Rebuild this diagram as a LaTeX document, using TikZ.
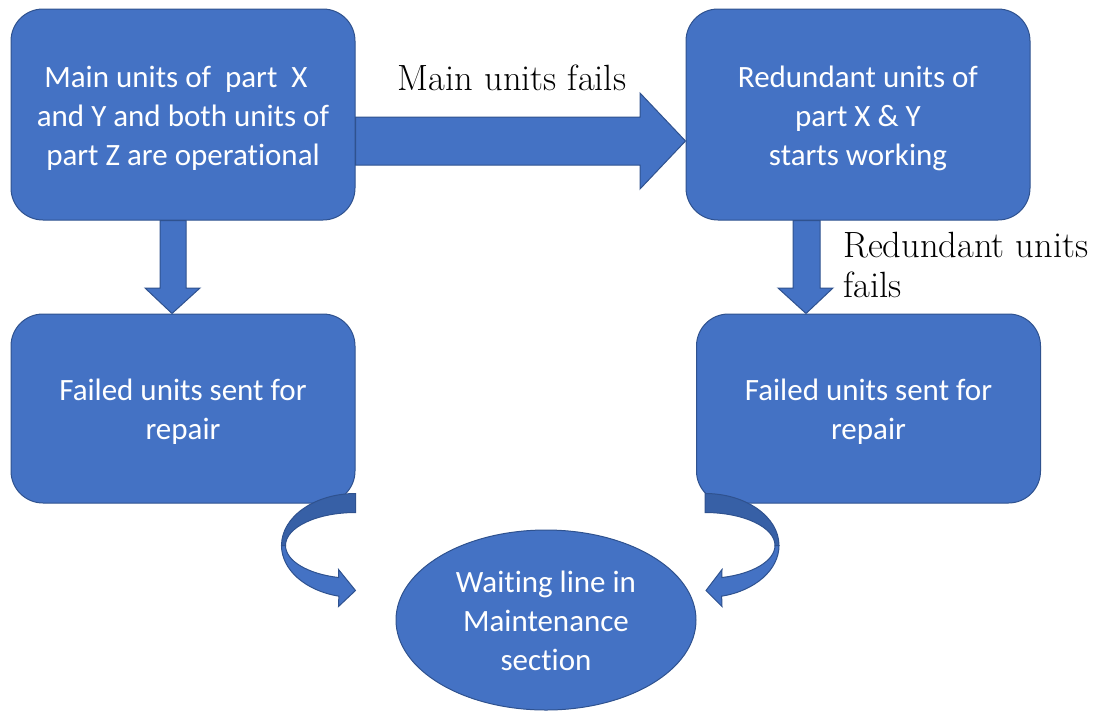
\documentclass[tikz,border=0pt]{standalone}
\usepackage{fontspec}
\newfontfamily\boxfont[Ligatures={NoCommon}]{Carlito}
\usetikzlibrary{shapes.geometric,calc}
\definecolor{fillb}{HTML}{4472C4}
\definecolor{lineb}{HTML}{2F528F}
\definecolor{darkb}{HTML}{3760A6}
\tikzset{
  box/.style={draw=lineb, line width=1pt, fill=fillb, rounded corners=32pt,
    minimum width=344pt, inner sep=0pt},
  oval/.style={ellipse, draw=lineb, line width=1pt, fill=fillb, minimum width=300pt,
    minimum height=180pt, inner sep=0pt},
  txt/.style={text=white, align=center, inner sep=0pt,
    font=\boxfont\fontsize{31}{39}\selectfont},
  blockarrow/.style={draw=lineb, line width=1pt, fill=fillb},
  backband/.style={draw=lineb, line width=1pt, fill=darkb},
  lbl/.style={font=\fontsize{36.5}{40}\selectfont, inner sep=0pt}
}
\begin{document}
\begin{tikzpicture}[x=1pt,y=-1pt]
\useasboundingbox (0,0) rectangle (1095,713);
\node[box, minimum height=211pt] (A) at (183,114.5) {};
\node[box, minimum height=211pt] (B) at (858,114.5) {};
\node[box, minimum height=189pt] (C) at (183,408.5) {};
\node[box, minimum height=189pt] (D) at (868.5,408.5) {};
\node[oval] (E) at (546,620) {};

\node[txt] (At) at ($(A.center)+(0,3.5)$) {Main units of\ \ part\ \ X\hspace*{14pt}\\and Y and both units of\\part Z are operational};
\node[txt] (Bt) at ($(B.center)+(0,3.5)$) {Redundant units of\\part X \& Y\\starts working};
\node[txt] (Ct) at ($(C.center)+(0,3.5)$) {Failed units sent for\\repair};
\node[txt] (Dt) at ($(D.center)+(0,3.5)$) {Failed units sent for\\repair};
\node[txt] (Et) at ($(E.center)+(0,1)$) {Waiting line in\\Maintenance\\section};

% horizontal block arrow A -> B
\draw[blockarrow] (A.east |- 0,117) -- (640,117) -- (640,93) -- (B.west |- 0,141)
  -- (640,189) -- (640,165) -- (A.east |- 0,165) -- cycle;
% down arrow A -> C
\draw[blockarrow] (160,0 |- A.south) -- (160,288) -- (145,288) -- (172,0 |- C.north)
  -- (200,288) -- (186,288) -- (186,0 |- A.south) -- cycle;
% down arrow B -> D
\draw[blockarrow] (793,0 |- B.south) -- (793,288) -- (778,288) -- (806,0 |- D.north)
  -- (833,288) -- (820,288) -- (820,0 |- B.south) -- cycle;

% curved arrow C -> E
\coordinate (cl) at ($(C.south east)+(0,-10)$);
\draw[backband] (cl) arc[start angle=270,end angle=180,x radius=74,y radius=52]
  -- ++(4,0) arc[start angle=180,end angle=270,x radius=70,y radius=33] -- cycle;
\draw[blockarrow] ($(cl)+(-74,52)$) arc[start angle=180,end angle=103,x radius=74,y radius=52]
  -- ++(-0.35,10.33) -- ++(17,-16) -- ++(-17,-21) -- ++(0.07,8.02)
  arc[start angle=104,end angle=180,x radius=70,y radius=33] -- cycle;

% curved arrow D -> E
\coordinate (cr) at ($(D.south west)+(9,-10)$);
\draw[backband] (cr) arc[start angle=270,end angle=360,x radius=74,y radius=52]
  -- ++(-4,0) arc[start angle=0,end angle=-90,x radius=70,y radius=33] -- cycle;
\draw[blockarrow] ($(cr)+(74,52)$) arc[start angle=0,end angle=77,x radius=74,y radius=52]
  -- ++(0.35,10.33) -- ++(-16,-16) -- ++(16,-21) -- ++(-0.07,8.02)
  arc[start angle=76,end angle=0,x radius=70,y radius=33] -- cycle;

% labels
\node[lbl] (l1) at (512,78) {Main units fails};
\node[lbl, anchor=west, align=left] (l2) at (843,265) {Redundant units\\fails};
\end{tikzpicture}
\end{document}
